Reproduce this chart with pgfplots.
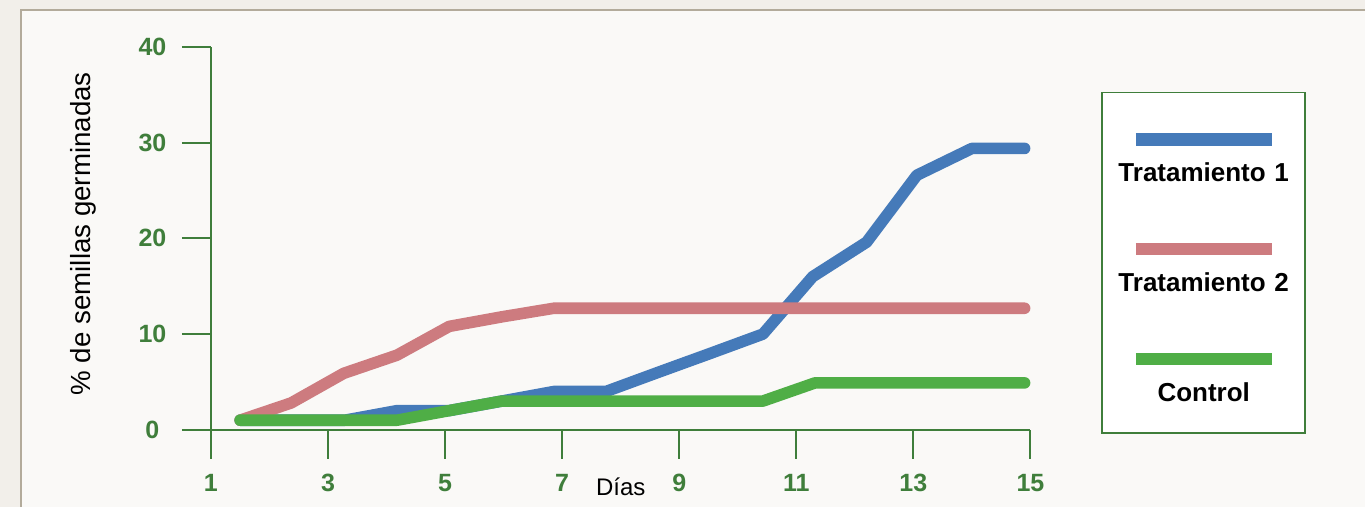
\documentclass[border=0pt]{standalone}
\usepackage{fontspec}
\setmainfont{Liberation Sans}
\usepackage{pgfplots}
\pgfplotsset{compat=1.18}
\definecolor{bgout}{HTML}{F2EFEA}
\definecolor{bgin}{HTML}{FAF9F7}
\definecolor{framec}{HTML}{B3AB9B}
\definecolor{axgreen}{HTML}{3F7E3B}
\definecolor{cblue}{HTML}{457AB9}
\definecolor{cred}{HTML}{CD7B7F}
\definecolor{cgreen}{HTML}{4FAE46}
\begin{document}
\begin{tikzpicture}
\fill[bgout] (-105.5pt,-38.5pt) rectangle (577.5pt,215pt);
\fill[bgin] (-95pt,-38.5pt) rectangle (577.5pt,210pt);
\draw[framec, line width=0.7pt] (-95pt,-38.5pt) -- (-95pt,210pt) -- (577.5pt,210pt);
\begin{axis}[
  at={(0pt,0pt)}, anchor=south west,
  scale only axis, width=410pt, height=191.5pt,
  xmin=1, xmax=15, ymin=0, ymax=40,
  clip=false,
  axis x line*=bottom, axis y line*=left,
  axis line style={-, axgreen, line width=1pt},
  every outer x axis line/.append style={-},
  every outer y axis line/.append style={-},
  xtick={1,3,...,15}, ytick={0,10,...,40},
  tick align=outside, major tick length=14.5pt,
  tick style={axgreen, line width=1pt},
  /pgf/number format/assume math mode=true,
  ticklabel style={font=\fontsize{12.5}{15}\selectfont\bfseries, text=axgreen},
  yticklabel style={anchor=center, xshift=-14.75pt},
  xticklabel style={anchor=base, yshift=-16.5pt},
  xlabel={Días},
  xlabel style={at={(rel axis cs:0.5,0)}, anchor=base, yshift=-33pt, font=\fontsize{12}{14}\selectfont},
  ylabel={\% de semillas germinadas},
  ylabel style={at={(rel axis cs:0,0.512)}, anchor=center, yshift=64pt, font=\fontsize{13.85}{16}\selectfont},
  legend style={at={(1.0866,0.8825)}, anchor=north west, draw=axgreen, fill=white, line width=0.7pt,
    inner xsep=2.875pt, inner ysep=15.75pt, column sep=0pt, row sep=26pt,
    /tikz/every odd column/.style={column sep=0pt},
    /tikz/every even column/.style={column sep=0pt},
    nodes={inner sep=0pt, text width=90pt, align=center, text height=9.5pt, text depth=0pt,
      font=\fontsize{13}{15}\selectfont\bfseries, execute at begin node={\hspace*{-5.75pt}}}},
  legend cell align=center,
  legend image code/.code={\path (0pt,21.25pt);
    \draw[#1, line width=6.3pt, line cap=butt, overlay] (11.1pt,16.5pt) -- (79.1pt,16.5pt);},
  every axis plot/.append style={line width=5.8pt, line cap=round, line join=round},
]
\addplot[cblue] coordinates {
(1.50,1) (2.39,1) (3.29,1) (4.18,2) (5.07,2) (5.97,3) (6.86,4) (7.75,4)
(8.64,6) (9.54,8) (10.43,10) (11.28,16) (12.20,19.6) (13.06,26.6) (14.00,29.4) (14.90,29.4)};
\addlegendentry{Tratamiento 1}
\addplot[cred] coordinates {
(1.50,1) (2.37,2.8) (3.27,5.9) (4.18,7.8) (5.07,10.8) (5.97,11.8) (6.86,12.7) (7.75,12.7)
(8.64,12.7) (9.54,12.7) (10.43,12.7) (11.32,12.7) (12.22,12.7) (13.11,12.7) (14.00,12.7) (14.90,12.7)};
\addlegendentry{Tratamiento 2}
\addplot[cgreen] coordinates {
(1.50,1) (2.39,1) (3.29,1) (4.18,1) (5.07,2) (5.97,3) (6.86,3) (7.75,3)
(8.64,3) (9.54,3) (10.43,3) (11.32,4.9) (12.22,4.9) (13.11,4.9) (14.00,4.9) (14.90,4.9)};
\addlegendentry{Control}
\end{axis}
\end{tikzpicture}
\end{document}
